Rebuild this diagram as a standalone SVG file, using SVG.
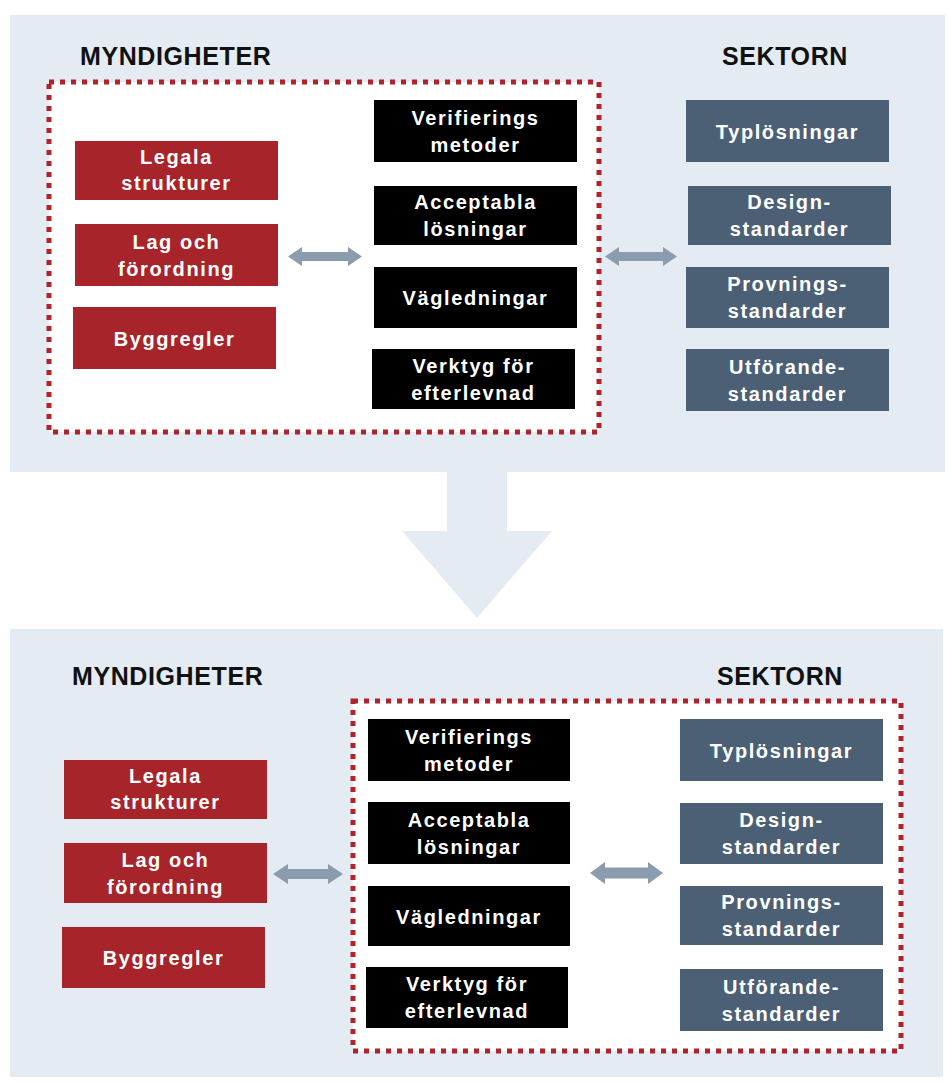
<svg xmlns="http://www.w3.org/2000/svg" width="951" height="1082" viewBox="0 0 951 1082">
<style>
.panel{fill:#e4ebf2}
.dash{fill:#ffffff;stroke:#b0232b;stroke-width:5;stroke-dasharray:5 6}
.red{fill:#a8242b}
.blk{fill:#000000}
.blu{fill:#4c6075}
.t{font-family:"Liberation Sans",Arial,sans-serif;font-weight:bold;font-size:20px;fill:#ffffff;text-anchor:middle;letter-spacing:1.6px}
.h{font-family:"Liberation Sans",Arial,sans-serif;font-weight:bold;font-size:25px;fill:#111111;letter-spacing:0.6px}
.arr{fill:#8a9cad}
</style>
<g id="backgrounds">
<rect class="panel" x="10" y="15" width="935" height="457"/>
<rect class="panel" x="10" y="629" width="933" height="448"/>
<polygon class="panel" points="447,472 507,472 507,531 552,531 477,618 402,531 447,531"/>
</g>

<g id="top">
<text class="h" x="80" y="65">MYNDIGHETER</text>
<text class="h" x="722" y="65">SEKTORN</text>
<rect id="top-frame" class="dash" x="49" y="82" width="550" height="350"/>
<g id="t-legala"><rect class="red" x="75" y="141" width="203" height="59"/><text class="t" x="176.5" y="164">Legala</text><text class="t" x="176.5" y="190">strukturer</text></g>
<g id="t-lag"><rect class="red" x="75" y="224" width="203" height="62"/><text class="t" x="176.5" y="248.5">Lag och</text><text class="t" x="176.5" y="275.5">förordning</text></g>
<g id="t-bygg"><rect class="red" x="73" y="307" width="203" height="62"/><text class="t" x="174.5" y="345.5">Byggregler</text></g>
<g id="t-verif"><rect class="blk" x="374" y="100" width="203" height="62"/><text class="t" x="475.5" y="124.5">Verifierings</text><text class="t" x="475.5" y="151.5">metoder</text></g>
<g id="t-accept"><rect class="blk" x="374" y="186" width="203" height="59"/><text class="t" x="475.5" y="209">Acceptabla</text><text class="t" x="475.5" y="236">lösningar</text></g>
<g id="t-vagl"><rect class="blk" x="374" y="267" width="203" height="61"/><text class="t" x="475.5" y="305">Vägledningar</text></g>
<g id="t-verkt"><rect class="blk" x="372" y="349" width="203" height="60"/><text class="t" x="473.5" y="372.5">Verktyg för</text><text class="t" x="473.5" y="399.5">efterlevnad</text></g>
<g id="t-typ"><rect class="blu" x="686" y="100" width="203" height="62"/><text class="t" x="787.5" y="138.5">Typlösningar</text></g>
<g id="t-design"><rect class="blu" x="688" y="186" width="203" height="59"/><text class="t" x="789.5" y="209">Design-</text><text class="t" x="789.5" y="236">standarder</text></g>
<g id="t-prov"><rect class="blu" x="686" y="267" width="203" height="61"/><text class="t" x="787.5" y="291">Provnings-</text><text class="t" x="787.5" y="318">standarder</text></g>
<g id="t-utf"><rect class="blu" x="686" y="349" width="203" height="62"/><text class="t" x="787.5" y="373.5">Utförande-</text><text class="t" x="787.5" y="400.5">standarder</text></g>
</g>

<g id="bottom">
<text class="h" x="72" y="685">MYNDIGHETER</text>
<text class="h" x="717" y="685">SEKTORN</text>
<rect id="bottom-frame" class="dash" x="353" y="701" width="548" height="350"/>
<g id="b-legala"><rect class="red" x="64" y="760" width="203" height="59"/><text class="t" x="165.5" y="783">Legala</text><text class="t" x="165.5" y="809">strukturer</text></g>
<g id="b-lag"><rect class="red" x="64" y="843" width="203" height="60"/><text class="t" x="165.5" y="866.5">Lag och</text><text class="t" x="165.5" y="893.5">förordning</text></g>
<g id="b-bygg"><rect class="red" x="62" y="927" width="203" height="61"/><text class="t" x="163.5" y="965">Byggregler</text></g>
<g id="b-verif"><rect class="blk" x="368" y="719" width="202" height="62"/><text class="t" x="469" y="743.5">Verifierings</text><text class="t" x="469" y="770.5">metoder</text></g>
<g id="b-accept"><rect class="blk" x="368" y="802" width="202" height="62"/><text class="t" x="469" y="826.5">Acceptabla</text><text class="t" x="469" y="853.5">lösningar</text></g>
<g id="b-vagl"><rect class="blk" x="368" y="886" width="202" height="60"/><text class="t" x="469" y="923.5">Vägledningar</text></g>
<g id="b-verkt"><rect class="blk" x="366" y="967" width="202" height="61"/><text class="t" x="467" y="991">Verktyg för</text><text class="t" x="467" y="1018">efterlevnad</text></g>
<g id="b-typ"><rect class="blu" x="680" y="719" width="203" height="62"/><text class="t" x="781.5" y="757.5">Typlösningar</text></g>
<g id="b-design"><rect class="blu" x="680" y="803" width="203" height="61"/><text class="t" x="781.5" y="827">Design-</text><text class="t" x="781.5" y="854">standarder</text></g>
<g id="b-prov"><rect class="blu" x="680" y="886" width="203" height="59"/><text class="t" x="781.5" y="909">Provnings-</text><text class="t" x="781.5" y="936">standarder</text></g>
<g id="b-utf"><rect class="blu" x="680" y="969" width="203" height="62"/><text class="t" x="781.5" y="993.5">Utförande-</text><text class="t" x="781.5" y="1020.5">standarder</text></g>
</g>

<g id="connectors">
<polygon class="arr" points="288,256.5 302,247 302,252 348,252 348,247 362,256.5 348,266 348,261 302,261 302,266"/>
<polygon class="arr" points="605,256.5 619,247 619,252 663,252 663,247 677,256.5 663,266 663,261 619,261 619,266"/>
<polygon class="arr" points="273,874 288,864 288,869 328,869 328,864 343,874 328,884 328,879 288,879 288,884"/>
<polygon class="arr" points="590,873 605,862 605,867.5 648,867.5 648,862 663,873 648,884 648,878.5 605,878.5 605,884"/>
</g>
</svg>
